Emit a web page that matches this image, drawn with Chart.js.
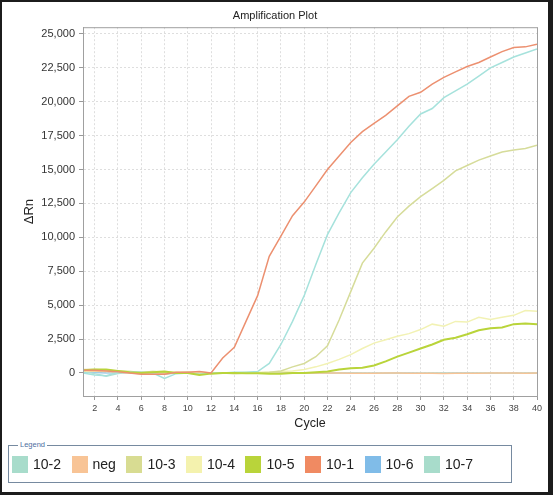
<!DOCTYPE html>
<html>
<head>
<meta charset="utf-8">
<script src="https://cdn.jsdelivr.net/npm/chart.js@4.4.1/dist/chart.umd.min.js"></script>
<style>
    body { margin: 0; background: #fff; font-family: "Liberation Sans", Arial, sans-serif; }
    #wrap { position: relative; width: 553px; height: 495px; overflow: hidden; }
    #wrap canvas { position: absolute; left: 0; top: 0; }
    .frame { position: absolute; left: 0; top: 0; width: 553px; height: 495px; box-sizing: border-box;
             border-style: solid; border-color: #1c1c1c; border-width: 2px 5px 3px 2px; pointer-events: none; }
    .legendBox { position: absolute; left: 8px; top: 445px; width: 504px; height: 38px; box-sizing: border-box;
                 border: 1.5px solid #768aa0; display: flex; align-items: center; padding-left: 3px; }
    .legendCap { position: absolute; left: 9px; top: -6px; background: #fff; padding: 0 2px; font-size: 7.5px; color: #4f6f9f; }
    .item { display: flex; align-items: center; margin-right: 10.5px; font-size: 14px; color: #222; }
    .sw { width: 16px; height: 17px; margin-right: 5px; }
</style>
</head>
<body>
<div id="wrap">
    <canvas id="chart" width="553" height="495"></canvas>
    <div class="legendBox" id="legend"><span class="legendCap">Legend</span></div>
    <div class="frame"></div>
</div>
<script>
// --- data ---
const cycles = [1,2,3,4,5,6,7,8,9,10,11,12,13,14,15,16,17,18,19,20,21,22,23,24,25,26,27,28,29,30,31,32,33,34,35,36,37,38,39,40];
const xTicks = [2,4,6,8,10,12,14,16,18,20,22,24,26,28,30,32,34,36,38,40];
const yTicks = [0,2500,5000,7500,10000,12500,15000,17500,20000,22500,25000];

const names = ['10-2', 'neg', '10-3', '10-4', '10-5', '10-1', '10-6', '10-7'];
const colors = ['#a8dccb', '#f8c496', '#d8dc92', '#f4f2ae', '#b9d43a', '#f08a62', '#80bce8', '#a8dccb'];
const lineColors = ['#a6e2dc', '#f8c496', '#d6dc9a', '#f2f2b4', '#b9d43a', '#ec9070', '#9cccea', '#b0e0d4'];

const s10_2 = [0,-150,-200,50,80,50,0,-400,-50,0,-100,0,0,50,50,100,700,2100,3800,5700,8000,10200,11800,13300,14400,15400,16300,17200,18200,19100,19500,20300,20800,21300,21900,22500,22900,23300,23600,23900];
const sNeg = [150,120,100,60,20,-50,-80,-60,30,40,60,0,-20,0,10,0,-20,-30,-20,0,10,0,-10,-20,-30,-20,0,0,-20,-30,-30,-40,-30,-20,-20,-10,0,-10,-20,-10];
const s10_3 = [250,250,200,150,100,50,100,50,0,50,-100,0,0,-50,0,0,50,150,450,700,1200,2000,3900,6000,8100,9200,10400,11500,12300,13000,13600,14200,14900,15300,15700,16000,16300,16450,16550,16800];
const s10_4 = [150,200,150,100,100,50,100,100,50,50,0,0,0,0,50,50,50,100,150,250,450,700,1000,1350,1800,2200,2450,2700,2900,3200,3600,3450,3800,3750,4100,3950,4100,4250,4600,4550];
const s10_5 = [200,250,250,150,50,0,50,100,0,0,-150,-50,0,0,-30,-30,-50,-50,0,0,50,100,250,350,380,550,850,1200,1500,1800,2100,2450,2600,2850,3150,3300,3350,3600,3650,3600];
const s10_1 = [200,200,150,80,0,-100,-100,-100,50,50,100,0,1100,1900,3800,5700,8600,10100,11600,12600,13800,15000,16000,17000,17800,18400,19000,19700,20400,20700,21300,21800,22200,22600,22900,23300,23700,24000,24050,24250];
const s10_6 = [50,30,0,20,40,30,0,-20,0,30,20,0,10,0,-10,0,10,0,-10,-20,-20,-10,0,-10,-20,-20,-20,-10,-10,-20,-20,-20,-10,-10,-20,-20,-20,-20,-20,-20];
const s10_7 = [100,-50,-250,-50,50,30,0,-100,0,20,-50,0,0,20,0,-10,0,0,-20,-20,-10,-10,0,0,-10,-20,-10,-10,-20,-20,-10,-10,-20,-20,-10,-10,-20,-20,-10,-10];
const series = [s10_2, sNeg, s10_3, s10_4, s10_5, s10_1, s10_6, s10_7];

// --- html legend ---
const legendEl = document.getElementById('legend');
names.forEach((n, i) => {
    const it = document.createElement('div');
    it.className = 'item';
    it.innerHTML = `<span class="sw" style="background:${colors[i]}"></span>${n}`;
    legendEl.appendChild(it);
});

const plotBox = {
    id: 'plotBox',
    beforeDraw(chart) {
        const c = chart.ctx;
        c.save();
        c.fillStyle = '#fff';
        c.fillRect(0, 0, chart.width, chart.height);
        c.restore();
    },
    afterDatasetsDraw(chart) {
        const a = chart.chartArea, c = chart.ctx;
        c.save();
        c.setLineDash([]);
        c.strokeStyle = '#a0a0a0';
        c.lineWidth = 1;
        c.strokeRect(a.left + 0.5, a.top + 0.5, a.right - a.left, a.bottom - a.top);
        c.restore();
    }
};

const font = '"Liberation Sans", Arial, sans-serif';
const ctx = document.getElementById('chart').getContext('2d');
new Chart(ctx, {
    type: 'line',
    data: {
        labels: cycles,
        datasets: series.map((d, i) => ({
            label: names[i],
            data: d.map((v, k) => ({ x: cycles[k], y: v })),
            borderColor: lineColors[i],
            borderWidth: names[i] === '10-5' ? 2 : 1.5,
            pointRadius: 0,
            tension: 0,
            fill: false,
            order: [3, 6, 4, 5, 2, 1, 8, 7][i]
        }))
    },
    options: {
        responsive: false,
        animation: false,
        layout: { padding: { left: 13, top: 0, right: 16, bottom: 60 } },
        plugins: {
            legend: { display: false },
            tooltip: { enabled: false },
            title: {
                display: true,
                text: 'Amplification Plot',
                color: '#222',
                font: { family: font, size: 11, weight: 'normal' },
                padding: { top: 9, bottom: 5 }
            }
        },
        scales: {
            x: {
                type: 'linear',
                min: 1, max: 40,
                afterBuildTicks: s => { s.ticks = xTicks.map(v => ({ value: v })); },
                afterFit: s => { s.height = 39; },
                ticks: { color: '#444', font: { family: font, size: 9 }, padding: 3, maxRotation: 0 },
                grid: { color: '#dedede', tickColor: '#999', tickLength: 4 },
                border: { color: '#a0a0a0', dash: [2, 2] },
                title: { display: true, text: 'Cycle', color: '#222', font: { family: font, size: 12.5 }, padding: { top: 4, bottom: 4 } }
            },
            y: {
                min: -1700, max: 25500,
                afterBuildTicks: s => { s.ticks = yTicks.map(v => ({ value: v })); },
                afterFit: s => { s.width = 70; },
                ticks: { color: '#333', font: { family: font, size: 11 }, padding: 4,
                         callback: v => v.toLocaleString('en-US') },
                grid: { color: '#dedede', tickColor: '#999', tickLength: 4 },
                border: { color: '#a0a0a0', dash: [2, 2] },
                title: { display: true, text: 'ΔRn', color: '#222', font: { family: font, size: 13 }, padding: { top: 9, bottom: 0 } }
            }
        }
    },
    plugins: [plotBox]
});
</script>
</body>
</html>
